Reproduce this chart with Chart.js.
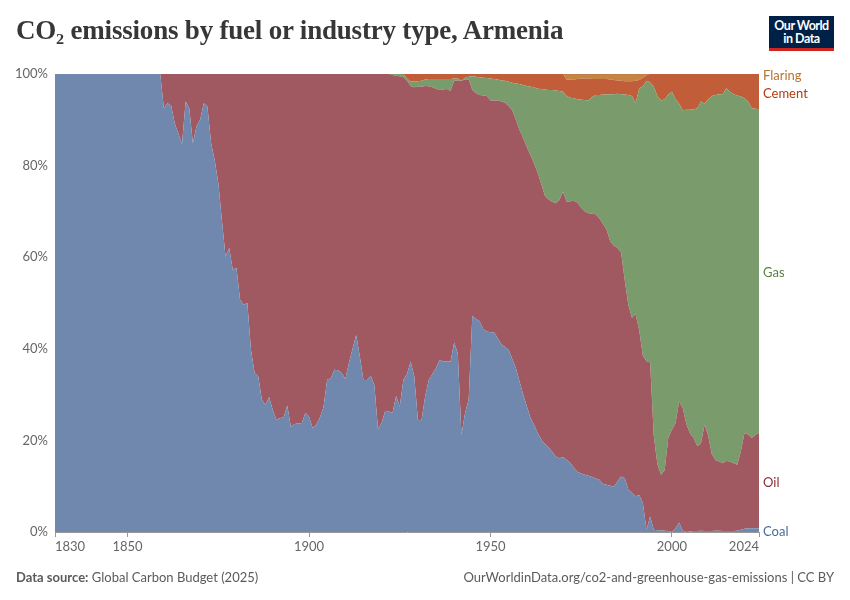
<!DOCTYPE html>
<html>
<head>
<meta charset="utf-8">
<script src="https://cdn.jsdelivr.net/npm/chart.js@4.4.1/dist/chart.umd.min.js"></script>
<style>
  body { margin: 0; background: #fff; font-family: Lato, sans-serif; }
  #page { position: relative; width: 850px; height: 600px; overflow: hidden; }
  h1 { position: absolute; left: 16px; top: 15px; margin: 0; font: 600 27px "Liberation Serif", serif; color: #373737; white-space: nowrap; letter-spacing: -0.2px; }
  .logo { position: absolute; left: 769px; top: 16px; width: 65px; height: 35px; background: #002147; color: #fff; text-align: center; font: 700 12.5px/13px Lato, sans-serif; box-sizing: border-box; padding-top: 3px; border-bottom: 3px solid #ce261e; letter-spacing: -0.5px; }
  #box { position: absolute; left: 0; top: 0; width: 850px; height: 600px; }
  .foot { position: absolute; top: 569px; font-size: 13px; color: #5b5b5b; }
</style>
</head>
<body>
<div id="page">
  <div id="box"><canvas id="chart"></canvas></div>
  <h1>CO₂ emissions by fuel or industry type, Armenia</h1>
  <div class="logo">Our World<br>in Data</div>
  <div class="foot" style="left:16px"><b>Data source:</b> Global Carbon Budget (2025)</div>
  <div class="foot" style="right:16px">OurWorldinData.org/co2-and-greenhouse-gas-emissions | CC BY</div>
</div>
<script>
// share of CO2 emissions (%)
const years = [1830, 1858,
  1859, 1860, 1861, 1862, 1863, 1864, 1865, 1866, 1867, 1868,
  1869, 1870, 1871, 1872, 1873, 1874, 1875, 1876, 1877, 1878,
  1879, 1880, 1881, 1882, 1883, 1884, 1885, 1886, 1887, 1888,
  1889, 1890, 1891, 1892, 1893, 1894, 1895, 1896, 1897, 1898,
  1899, 1900, 1901, 1902, 1903, 1904, 1905, 1906, 1907, 1908,
  1909, 1910, 1911, 1912, 1913, 1914, 1915, 1916, 1917, 1918,
  1919, 1920, 1921, 1922, 1923, 1924, 1925, 1926, 1927, 1928,
  1929, 1930, 1931, 1932, 1933, 1934, 1935, 1936, 1937, 1938,
  1939, 1940, 1941, 1942, 1943, 1944, 1945, 1946, 1947, 1948,
  1949, 1950, 1951, 1952, 1953, 1954, 1955, 1956, 1957, 1958,
  1959, 1960, 1961, 1962, 1963, 1964, 1965, 1966, 1967, 1968,
  1969, 1970, 1971, 1972, 1973, 1974, 1975, 1976, 1977, 1978,
  1979, 1980, 1981, 1982, 1983, 1984, 1985, 1986, 1987, 1988,
  1989, 1990, 1991, 1992, 1993, 1994, 1995, 1996, 1997, 1998,
  1999, 2000, 2001, 2002, 2003, 2004, 2005, 2006, 2007, 2008,
  2009, 2010, 2011, 2012, 2013, 2014, 2015, 2016, 2017, 2018,
  2019, 2020, 2021, 2022, 2023, 2024];

const coal = [100, 100,
  100, 92.5, 93.6, 93.1, 89.2, 87, 84.7, 94, 92.5, 84.9,
  88.6, 90, 93.6, 92.9, 85, 81.2, 76.2, 68, 60.1, 62,
  57.2, 57.7, 50.7, 49.6, 50, 39.8, 34.7, 34, 28.9, 27.8,
  29.5, 26.7, 24.5, 24.9, 25, 27.6, 22.9, 23.6, 23.7, 23.8,
  26, 25.2, 22.7, 23.4, 25, 27.3, 33.3, 33.5, 35.4, 35.3,
  34.7, 33.4, 36.9, 40, 43, 38.3, 33.2, 33.2, 34.1, 32.1,
  22.5, 23.8, 26.5, 26.3, 26, 29.7, 27.4, 33.2, 34.5, 37.2,
  34, 24.5, 24.4, 29.6, 33.2, 34.5, 35.8, 37.6, 37.2, 37.2,
  37.2, 41.4, 39, 21.2, 26, 28.9, 47.2, 46.5, 46, 44.3,
  43.8, 43.6, 43.6, 42.3, 41, 40.4, 39.8, 37.8, 35.8, 32.9,
  30, 27.5, 25, 23.4, 21.6, 20.2, 19.2, 18.5, 17.5, 16.5,
  16.1, 16.4, 15.7, 15.1, 14, 13.1, 12.8, 12.5, 12.3, 12,
  11.7, 11.4, 10.5, 10.3, 10.1, 9.9, 11, 12.1, 11.8, 9.2,
  8.5, 7.8, 8.1, 6.3, 0.5, 3.4, 0.5, 0.4, 0.4, 0.3,
  0.2, 0, 0.8, 2.1, 0.3, 0, 0.1, 0.2, 0.2, 0.3,
  0.2, 0.2, 0.2, 0.3, 0.3, 0.2, 0.2, 0.2, 0.2, 0.3,
  0.5, 0.7, 0.8, 0.8, 0.8, 0.8];

const oil = [0, 0,
  0, 7.5, 6.4, 6.9, 10.8, 13, 15.3, 6, 7.5, 15.1,
  11.4, 10, 6.4, 7.1, 15, 18.8, 23.8, 32, 39.9, 38,
  42.8, 42.3, 49.3, 50.4, 50, 60.2, 65.3, 66, 71.1, 72.2,
  70.5, 73.3, 75.5, 75.1, 75, 72.4, 77.1, 76.4, 76.3, 76.2,
  74, 74.8, 77.3, 76.6, 75, 72.7, 66.7, 66.5, 64.6, 64.7,
  65.3, 66.6, 63.1, 60, 57, 61.7, 66.8, 66.8, 65.9, 67.9,
  77.5, 76.2, 73.5, 73.7, 73.8, 69.9, 72.1, 66.1, 64, 60.2,
  63.1, 72.7, 72.8, 67.8, 64.1, 62.6, 61, 58.9, 59.4, 59.5,
  59.1, 57.2, 59.5, 77.3, 72.8, 69.9, 49.3, 49.3, 49.4, 51,
  51.4, 50.6, 50.6, 51.9, 53, 53.3, 53.2, 54.3, 54.2, 54.9,
  56, 56.6, 57.3, 57.1, 56.9, 55.8, 54.2, 54.1, 54.6, 55.3,
  56.4, 57.9, 56.4, 57.1, 58.3, 58.8, 58, 57.5, 57.3, 57.5,
  57.7, 57.1, 56.8, 55.7, 53.4, 52.6, 51, 48.9, 43.2, 40.3,
  38.3, 39.8, 35.9, 32.2, 36.8, 33.6, 20.5, 14.4, 12.1, 13.2,
  20.3, 22.3, 23, 26.4, 26.7, 23.5, 21.4, 20.3, 18.5, 19,
  23.2, 20.8, 16.8, 15.4, 15.1, 14.8, 15.3, 15.2, 14.8, 14.4,
  17.1, 20.9, 20.5, 19.7, 20.4, 20.8];

const gas = [0, 0,
  0, 0, 0, 0, 0, 0, 0, 0, 0, 0,
  0, 0, 0, 0, 0, 0, 0, 0, 0, 0,
  0, 0, 0, 0, 0, 0, 0, 0, 0, 0,
  0, 0, 0, 0, 0, 0, 0, 0, 0, 0,
  0, 0, 0, 0, 0, 0, 0, 0, 0, 0,
  0, 0, 0, 0, 0, 0, 0, 0, 0, 0,
  0, 0, 0, 0, 0.2, 0.4, 0.5, 0.7, 0.5, 0.9,
  1.3, 1.2, 1.3, 1.4, 1.6, 1.8, 2.1, 2.4, 2.3, 2.2,
  2.6, 0.4, 0.5, 0, 0.4, 0.6, 3, 3.6, 3.9, 3.9,
  3.9, 4.8, 4.7, 4.6, 4.6, 4.8, 5.3, 6, 7.9, 10,
  11.6, 13.3, 14.9, 16.6, 18.3, 20.7, 23.2, 23.9, 24.4, 24.6,
  23.8, 21.8, 23.1, 22.6, 22.4, 22.6, 23.6, 24.3, 24.6, 25.5,
  26, 26.9, 28.2, 29.5, 32.1, 33.1, 33.7, 34.6, 40.5, 45.9,
  48.4, 46, 52.9, 58.8, 61.2, 61.2, 76.2, 80.4, 81.7, 81,
  75, 73.8, 70.7, 65, 65.1, 68.7, 70.7, 71.8, 73.8, 74.7,
  70.1, 73.5, 78.2, 79.7, 80.2, 80.6, 81.4, 80.7, 80.6, 80.6,
  77.5, 73.1, 72.7, 72, 71.2, 70.7];

const cement = [0, 0,
  0, 0, 0, 0, 0, 0, 0, 0, 0, 0,
  0, 0, 0, 0, 0, 0, 0, 0, 0, 0,
  0, 0, 0, 0, 0, 0, 0, 0, 0, 0,
  0, 0, 0, 0, 0, 0, 0, 0, 0, 0,
  0, 0, 0, 0, 0, 0, 0, 0, 0, 0,
  0, 0, 0, 0, 0, 0, 0, 0, 0, 0,
  0, 0, 0, 0, 0, 0, 0, 0, 1, 1.7,
  1.6, 1.6, 1.5, 1.2, 1.1, 1.1, 1.1, 1.1, 1.1, 1.1,
  1.1, 1, 1, 1.5, 0.8, 0.6, 0.5, 0.6, 0.7, 0.8,
  0.9, 1, 1.1, 1.2, 1.4, 1.5, 1.7, 1.9, 2.1, 2.2,
  2.4, 2.6, 2.8, 2.9, 3.2, 3.3, 3.4, 3.5, 3.5, 3.6,
  3.7, 3.9, 3.5, 4, 4.1, 4.4, 4.6, 4.7, 4.8, 3.9,
  3.5, 3.5, 3.4, 3.4, 3.2, 3.1, 2.9, 2.9, 2.9, 3,
  3.2, 4.9, 1.8, 1.9, 1.2, 1.8, 2.8, 4.8, 5.8, 5.5,
  4.5, 3.9, 5.5, 6.5, 7.9, 7.8, 7.8, 7.7, 7.5, 6,
  6.5, 5.5, 4.8, 4.6, 4.4, 4.4, 3.1, 3.9, 4.4, 4.7,
  4.9, 5.3, 6, 7.5, 7.6, 7.7];

const flaring = [0, 0,
  0, 0, 0, 0, 0, 0, 0, 0, 0, 0,
  0, 0, 0, 0, 0, 0, 0, 0, 0, 0,
  0, 0, 0, 0, 0, 0, 0, 0, 0, 0,
  0, 0, 0, 0, 0, 0, 0, 0, 0, 0,
  0, 0, 0, 0, 0, 0, 0, 0, 0, 0,
  0, 0, 0, 0, 0, 0, 0, 0, 0, 0,
  0, 0, 0, 0, 0, 0, 0, 0, 0, 0,
  0, 0, 0, 0, 0, 0, 0, 0, 0, 0,
  0, 0, 0, 0, 0, 0, 0, 0, 0, 0,
  0, 0, 0, 0, 0, 0, 0, 0, 0, 0,
  0, 0, 0, 0, 0, 0, 0, 0, 0, 0,
  0, 0, 1.3, 1.2, 1.2, 1.1, 1, 1, 1, 1.1,
  1.1, 1.1, 1.1, 1.1, 1.2, 1.3, 1.4, 1.5, 1.6, 1.6,
  1.6, 1.5, 1.3, 0.8, 0.3, 0, 0, 0, 0, 0,
  0, 0, 0, 0, 0, 0, 0, 0, 0, 0,
  0, 0, 0, 0, 0, 0, 0, 0, 0, 0,
  0, 0, 0, 0, 0, 0];

const xTicks = [1830, 1850, 1900, 1950, 2000, 2024];
const yTicks = [0, 20, 40, 60, 80, 100];

const series = [
  { label: 'Coal', values: coal, fill: 'rgb(112,136,174)', text: '#4c6a9c' },
  { label: 'Oil', values: oil, fill: 'rgb(160,89,97)', text: '#883039' },
  { label: 'Gas', values: gas, fill: 'rgb(122,155,107)', text: '#578145' },
  { label: 'Cement', values: cement, fill: 'rgb(193,93,57)', text: '#b13a10' },
  { label: 'Flaring', values: flaring, fill: 'rgb(198,134,66)', text: '#b8742c' }
];

const endLabels = {
  id: 'endLabels',
  afterDraw(chart) {
    const { ctx, chartArea } = chart;
    const y = chart.scales.y;
    const last = years.length - 1;
    let base = 0, prev = Infinity;
    ctx.save();
    ctx.font = '13px Lato';
    ctx.textBaseline = 'middle';
    ctx.textAlign = 'left';
    series.forEach(s => {
      const v = s.values[last];
      let py = y.getPixelForValue(base + v / 2);
      base += v;
      py = Math.min(py, prev - 16);
      prev = py;
      ctx.fillStyle = s.text;
      ctx.fillText(s.label, chartArea.right + 4, py + 2);
    });
    ctx.restore();
  }
};

new Chart(document.getElementById('chart'), {
  type: 'line',
  data: {
    datasets: series.map((s, i) => ({
      label: s.label,
      data: years.map((yr, j) => ({ x: yr, y: s.values[j] })),
      backgroundColor: s.fill,
      borderColor: i === 4 ? 'rgba(180,120,80,0.9)' : s.fill,
      borderWidth: i === 4 ? 1 : 0,
      fill: i === 0 ? 'origin' : '-1',
      pointRadius: 0,
      tension: 0
    }))
  },
  options: {
    responsive: true,
    maintainAspectRatio: false,
    animation: false,
    layout: { padding: { left: 0, top: 74, right: 91, bottom: 38 } },
    plugins: { legend: { display: false }, tooltip: { enabled: false } },
    scales: {
      x: {
        type: 'linear',
        min: 1830,
        max: 2024,
        afterBuildTicks: scale => { scale.ticks = xTicks.map(v => ({ value: v })); },
        afterFit: scale => { scale.height = 30; },
        grid: { drawOnChartArea: false, color: '#999', tickLength: 5 },
        border: { color: '#999' },
        ticks: {
          align: 'inner',
          autoSkip: false,
          maxRotation: 0,
          padding: 2,
          color: '#666',
          font: { family: 'Lato', size: 13 },
          callback: v => String(v)
        }
      },
      y: {
        stacked: true,
        min: 0,
        max: 100,
        z: 1,
        afterBuildTicks: scale => { scale.ticks = yTicks.map(v => ({ value: v })); },
        afterFit: scale => { scale.width = 55; },
        grid: { color: 'rgba(0,0,0,0.09)', drawTicks: false },
        border: { display: false, dash: [3, 3] },
        ticks: {
          padding: 7,
          color: '#666',
          font: { family: 'Lato', size: 13 },
          callback: v => v + '%'
        }
      }
    }
  },
  plugins: [endLabels]
});
</script>
</body>
</html>
